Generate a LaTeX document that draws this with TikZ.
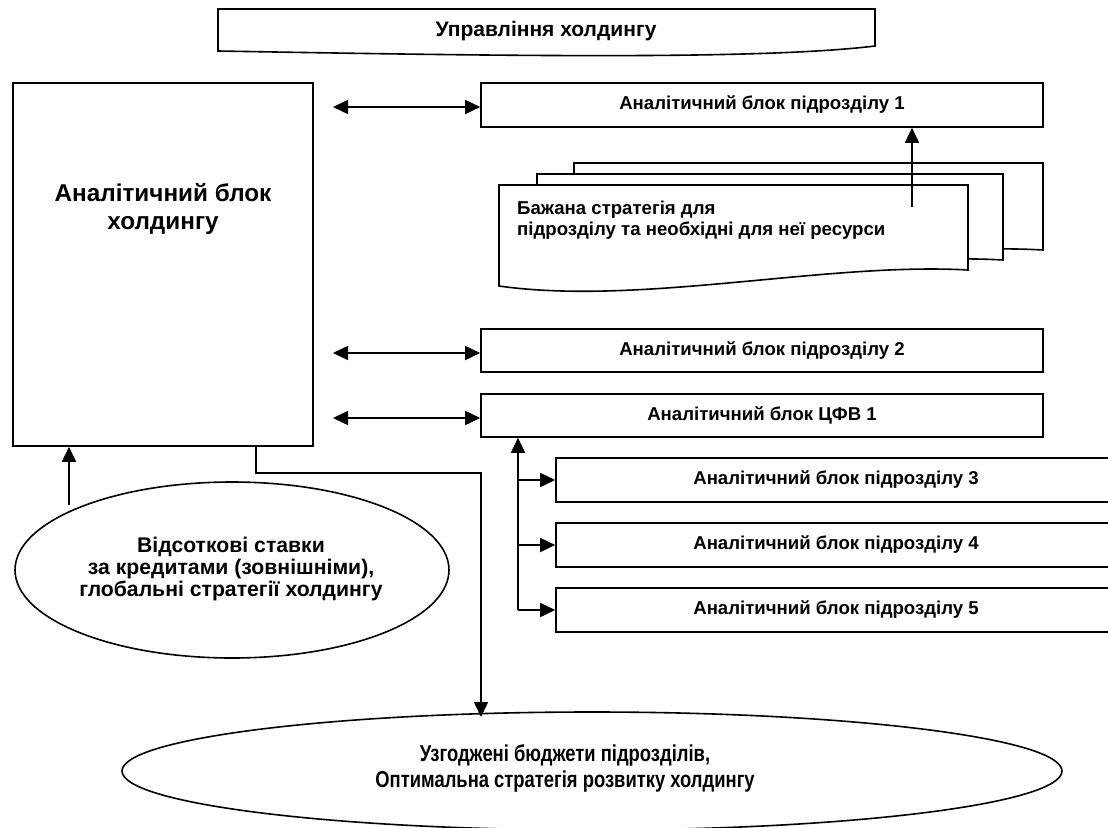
\documentclass[tikz,border=0pt]{standalone}
\usepackage{fontspec}
\setmainfont{Liberation Sans}
\newfontfamily\narrowfont[FakeStretch=0.8]{Liberation Sans}
\usetikzlibrary{shapes.geometric,arrows.meta}
\tikzset{
  ln/.style={line width=1.6pt},
  boxn/.style={draw,ln,fill=white,minimum width=562,minimum height=44,inner sep=0pt,font=\bfseries\fontsize{18.6}{22}\selectfont},
  subbox/.style={boxn,minimum width=560},
  docshape/.style={draw,ln,fill=white,line join=miter},
  arr/.style={ln,-{Triangle[length=15pt,width=14pt]}},
  biarr/.style={ln,{Triangle[length=15pt,width=14pt]}-{Triangle[length=15pt,width=14pt]}},
  ell/.style={draw,ln,ellipse,inner sep=0pt},
  txt/.style={inner sep=0pt,font=\bfseries\fontsize{21.2}{22}\selectfont,align=center}
}
\begin{document}
\begin{tikzpicture}[x=1pt,y=-1pt]
\path[use as bounding box] (0,0) rectangle (1108,827);
\clip (0,0) rectangle (1108,827);

% top document shape
\draw[docshape] (218,9) -- (875,9) -- (875,46) .. controls (760,60) and (500,56) .. (218,51) -- cycle;
\node[txt,font=\bfseries\fontsize{21}{22}\selectfont] (mgmt) at (546,31) {Управління холдингу};

% left big box
\node[draw,ln,minimum width=300,minimum height=363,inner sep=0pt] (hold) at (163,264.5) {};
\node[txt,font=\bfseries\fontsize{24.3}{28}\selectfont] (holdt) at (163,209) {Аналітичний блок\\холдингу};

% right boxes
\node[boxn] (b1) at (762,105) {Аналітичний блок підрозділу 1};
\node[boxn,minimum height=43] (b2) at (762,350.5) {Аналітичний блок підрозділу 2};
\node[boxn,minimum height=43] (cfv) at (762,415.5) {Аналітичний блок ЦФВ 1};
\node[subbox] (b3) at (836,480) {Аналітичний блок підрозділу 3};
\node[subbox] (b4) at (836,545) {Аналітичний блок підрозділу 4};
\node[subbox] (b5) at (836,610) {Аналітичний блок підрозділу 5};

% document stack
\draw[docshape] (574,163) -- (1043,163) -- (1043,250) .. controls (903,242) and (715,280) .. (574,266) -- cycle;
\draw[docshape] (537,174) -- (1003,174) -- (1003,260) .. controls (863,252) and (677,290) .. (537,276) -- cycle;
\draw[docshape] (499,185) -- (968,185) -- (968,270) .. controls (827,262) and (640,306) .. (499,286) -- cycle;
\node[inner sep=0pt,anchor=west,align=left,font=\bfseries\fontsize{18.6}{21}\selectfont] (doct) at (517,220) {Бажана стратегія для\\підрозділу та необхідні для неї ресурси};

% arrows left box <-> right boxes
\coordinate (a1) at (333,107);
\coordinate (a2) at (333,353);
\coordinate (a3) at (333,418);
\draw[biarr] (a1) -- (a1 -| b1.west);
\draw[biarr] (a2) -- (a2 -| b2.west);
\draw[biarr] (a3) -- (a3 -| cfv.west);

% doc -> b1
\coordinate (d1) at (912,207);
\draw[arr] (d1) -- (d1 |- b1.south);

% cfv tree
\coordinate (t5) at (518,610);
\draw[arr] (t5) -- (t5 |- cfv.south);
\draw[arr] (t5 |- b3.west) -- (b3.west);
\draw[arr] (t5 |- b4.west) -- (b4.west);
\draw[arr] (t5) -- (b5.west);

% left ellipse
\node[ell,minimum width=434,minimum height=176] (lell) at (232,570) {};
\node[txt] (lellt) at (231,569) {Відсоткові ставки\\за кредитами (зовнішніми),\\глобальні стратегії холдингу};
\coordinate (e1) at (69,505);
\draw[arr] (e1) -- (e1 |- hold.south);

% bottom ellipse
\node[ell,minimum width=940,minimum height=118] (bell) at (592,771) {};
\node[txt,font=\narrowfont\bfseries\fontsize{23}{26}\selectfont] (bellt) at (565,768) {Узгоджені бюджети підрозділів,\\Оптимальна стратегія розвитку холдингу};
\coordinate (c1) at (256,473);
\coordinate (c2) at (481,717);
\draw[arr] (c1 |- hold.south) -- (c1) -| (c2);

\end{tikzpicture}
\end{document}
